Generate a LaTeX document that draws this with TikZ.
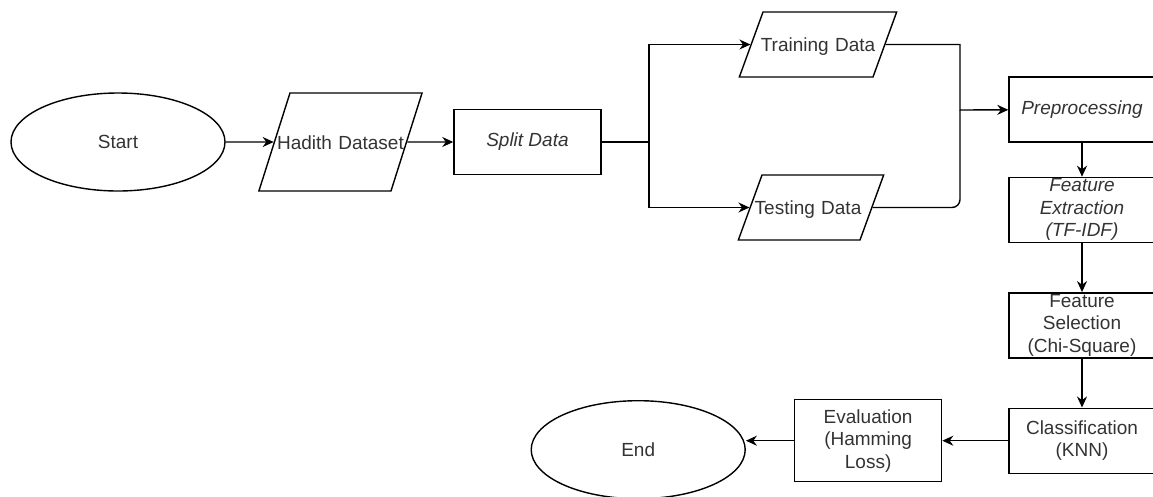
\documentclass[tikz,border=0pt]{standalone}
\usepackage{fontspec}
\setmainfont{Liberation Sans}
\usepackage{tikz}
\usetikzlibrary{arrows.meta, positioning, shapes.geometric}

\definecolor{flowtext}{RGB}{51, 51, 51}

\begin{document}
\begin{tikzpicture}[x=1pt, y=-1pt,
    every node/.style={text=flowtext, font=\fontsize{19pt}{22.5pt}\selectfont},
    procbox/.style={draw=black, line width=1.4pt, minimum width=146pt,
                    minimum height=65pt, align=center, inner sep=1pt},
    databox/.style={draw=black, line width=1.4pt, trapezium, inner sep=0pt, align=center,
                    trapezium left angle=70, trapezium right angle=110,
                    text height=39.5pt, text depth=25.5pt},
    termnode/.style={draw=black, line width=1.4pt, ellipse, minimum width=214pt,
                     minimum height=98pt},
    arr/.style={-{Stealth[length=11pt, width=10pt]}, line width=1.4pt}]
    \useasboundingbox (0,0) rectangle (1153,496);

    \node[termnode] (start) at (118,142) {Start};
    \node[databox, trapezium left angle=72.4, trapezium right angle=107.6,
          text width=101pt, text height=56pt, text depth=42pt,
          right=48pt of start] (hadith) {\makebox[0pt]{Hadith Dataset}};
    \node[procbox, minimum width=147pt, right=46pt of hadith] (split) {\textit{Split Data}};

    \node[databox, text width=110pt] (train) at (818,44.5) {\makebox[0pt]{Training Data}};
    \node[databox, text width=98pt] (test) at (811,207.5) {\makebox[0pt]{\hspace*{-6pt}Testing Data}};

    \node[procbox] (prep) at (1082,109.5) {\textit{Preprocessing}};
    \node[procbox, below=34pt of prep] (extract) {\textit{Feature}\\\textit{Extraction}\\\textit{(TF-IDF)}};
    \node[procbox, below=49pt of extract] (select) {Feature\\Selection\\(Chi-Square)};
    \node[procbox, below=49pt of select] (classify) {Classification\\(KNN)};
    \node[procbox, minimum width=147pt, minimum height=82pt,
          left=66pt of classify] (evaluate) {Evaluation\\(Hamming\\Loss)};
    \node[termnode, left=48pt of evaluate, yshift=-9pt] (end) {End};

    \coordinate (fork) at (649,142);
    \coordinate (merge) at (960,110);

    \draw[arr] (start) -- (hadith);
    \draw[arr] (hadith) -- (split);
    \draw[line width=1.4pt] (split) -- (fork);
    \draw[arr] (fork) |- (train);
    \draw[arr] (fork) |- (test);
    \draw[arr] (train) -| (merge) -- (prep);
    \draw[line width=1.4pt, rounded corners=8pt] (test) -| (merge);
    \draw[arr] (prep) -- (extract);
    \draw[arr] (extract) -- (select);
    \draw[arr] (select) -- (classify);
    \draw[arr] (classify) -- (evaluate);
    \draw[arr] (evaluate.west) -- (evaluate.west -| end.east);
\end{tikzpicture}
\end{document}
